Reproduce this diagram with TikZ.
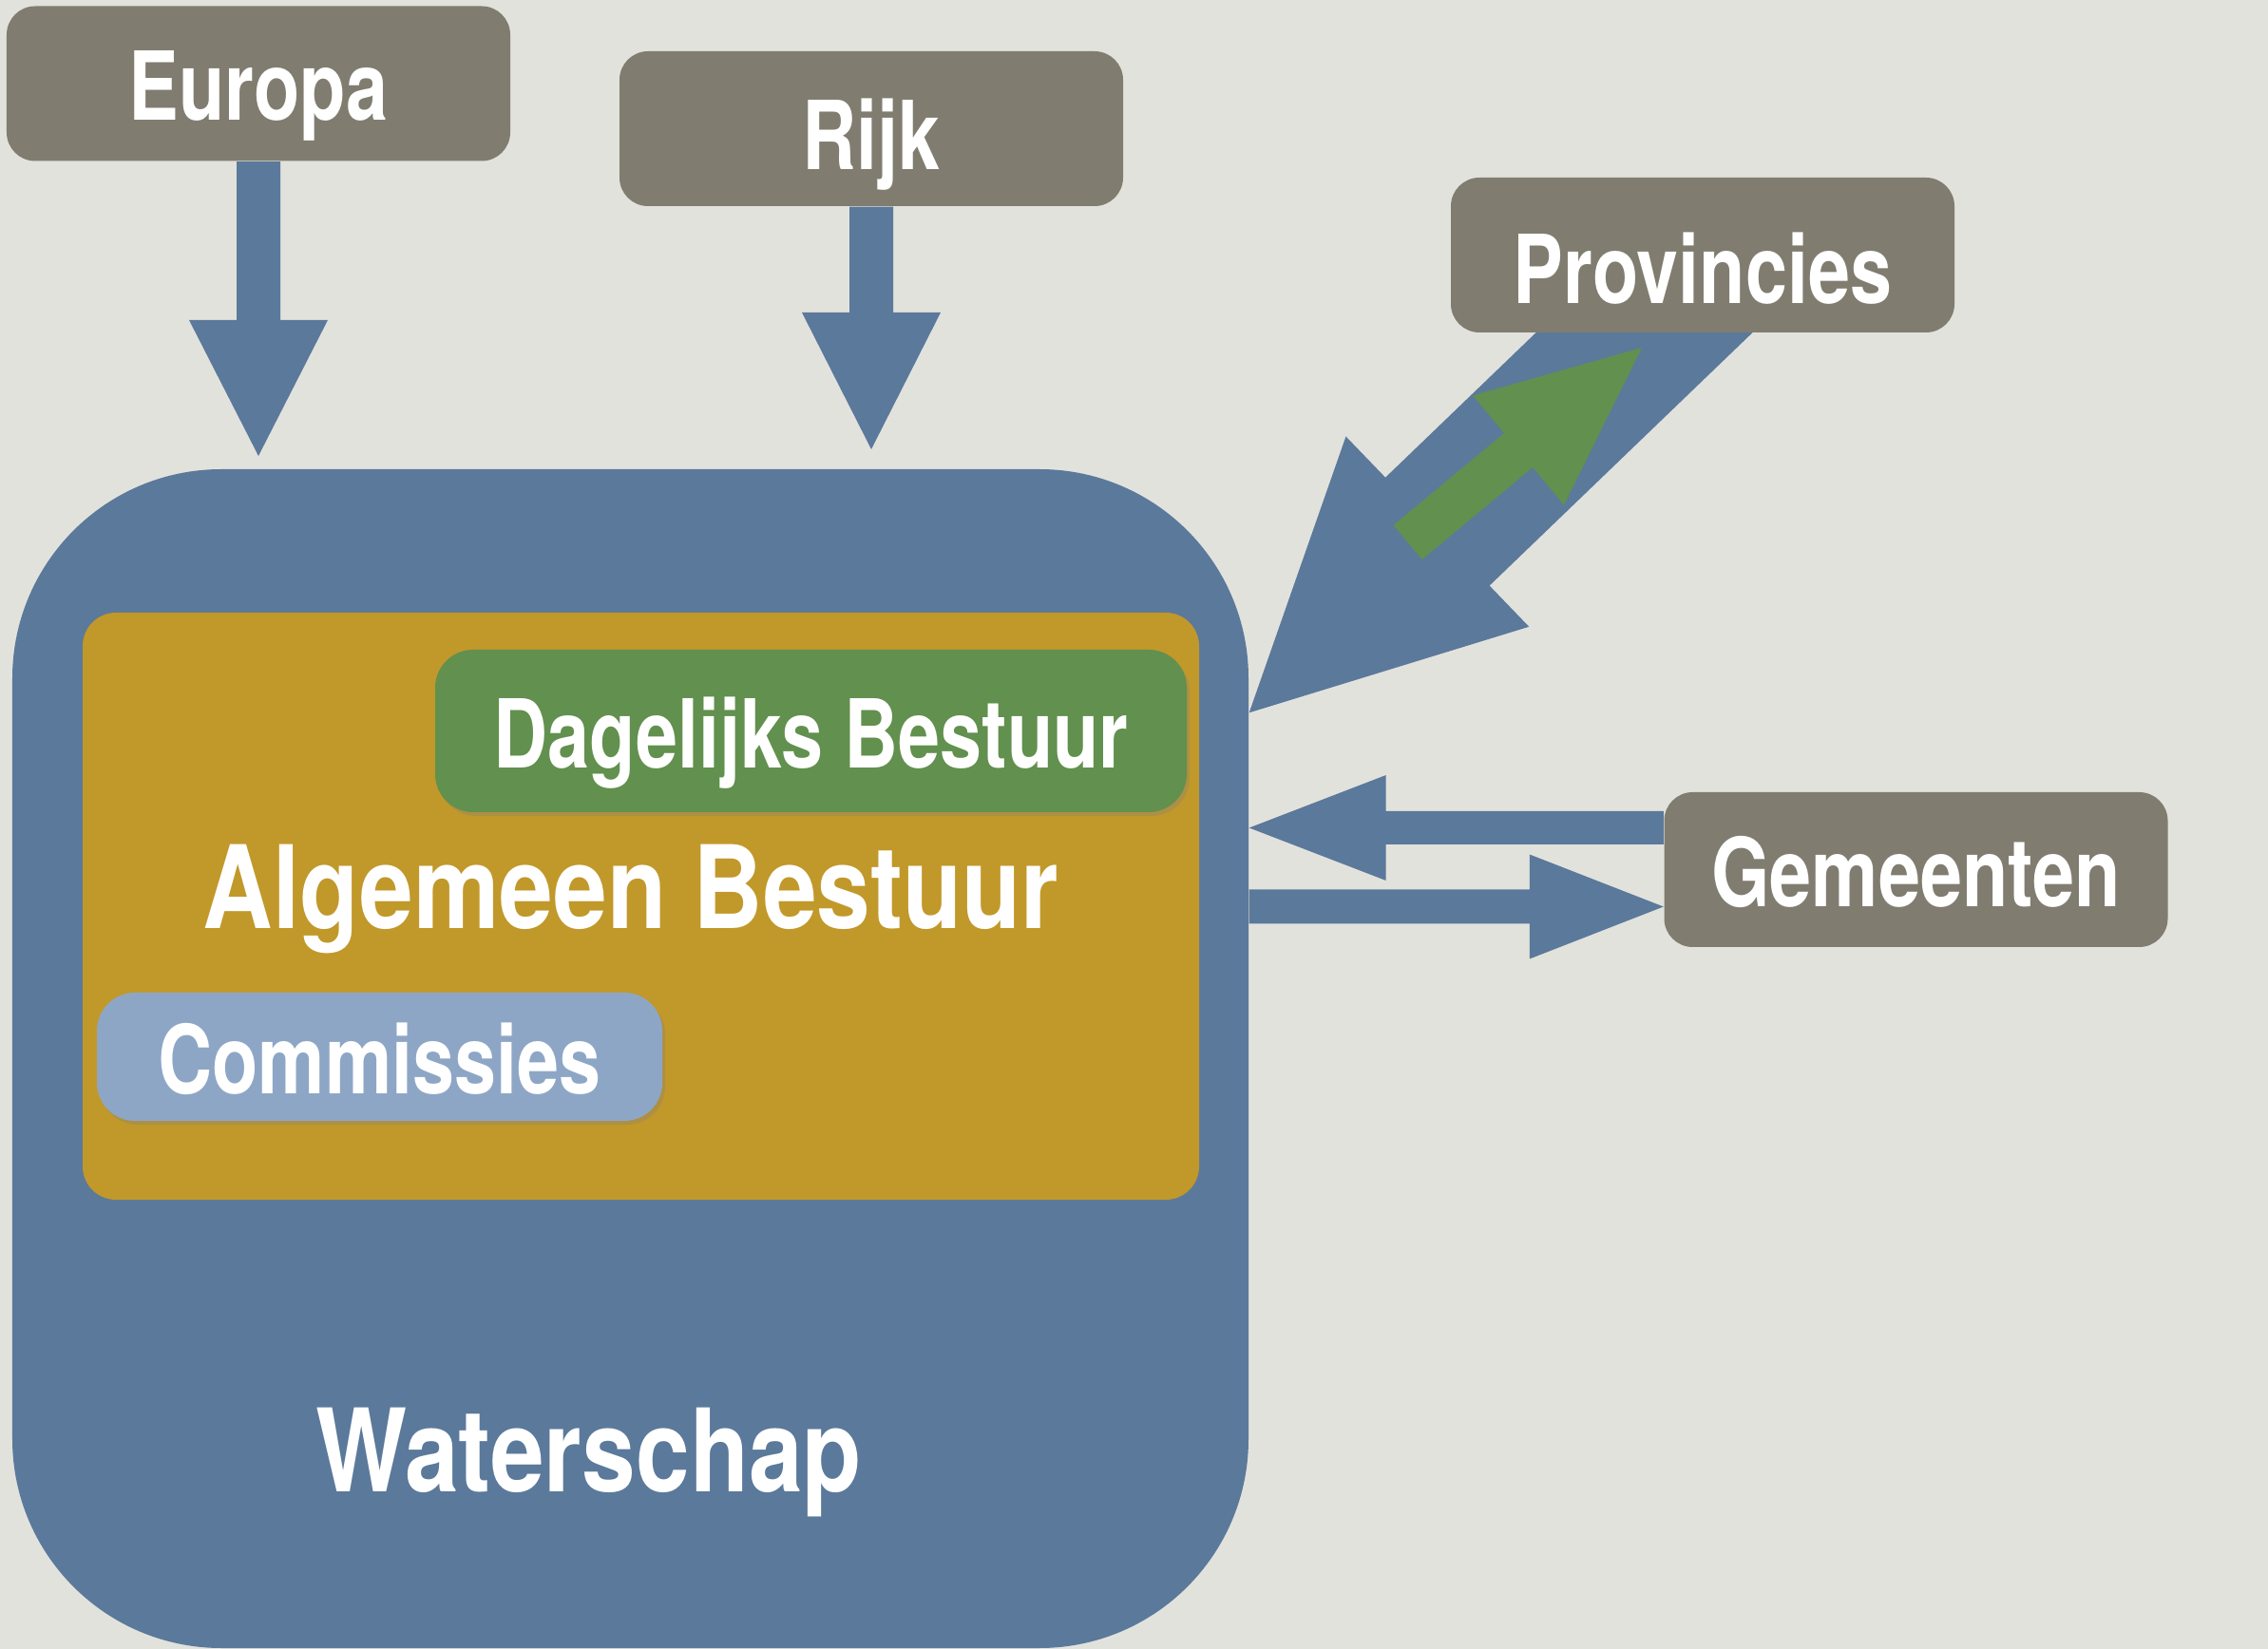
\documentclass[tikz,border=0pt]{standalone}
\usepackage{fontspec}
\setmainfont{TeX Gyre Heros}[FakeStretch=0.79]
\newfontfamily\bigfont{TeX Gyre Heros}[FakeStretch=0.84]
\usepackage{tikz}
\usetikzlibrary{calc,positioning,shadows}
\definecolor{paper}{RGB}{226,226,220}
\definecolor{boxgrey}{RGB}{128,125,112}
\definecolor{waterblue}{RGB}{91,121,155}
\definecolor{abgold}{RGB}{193,152,42}
\definecolor{dbgreen}{RGB}{98,144,78}
\definecolor{comblue}{RGB}{142,166,198}
\pgfdeclarelayer{back}
\pgfdeclarelayer{arrows}
\pgfsetlayers{back,arrows,main}
% block arrow: [colour] {from} {to} {half shaft} {half head} {head length}
\newcommand{\blockarrow}[6][waterblue]{%
	\coordinate (hb) at ($(#3)!#6!(#2)$);
	\fill[#1] ($(#2)!#4!90:(#3)$) -- ($(hb)!#4!-90:(#2)$) -- ($(hb)!#5!-90:(#2)$) -- (#3)
		-- ($(hb)!#5!90:(#2)$) -- ($(hb)!#4!90:(#2)$) -- ($(#2)!#4!-90:(#3)$) -- cycle;
}

\begin{document}
\begin{tikzpicture}[
		lbl/.style={text=white, font=\bfseries\fontsize{28.5}{31}\selectfont, text height=22.2pt, text depth=0pt, inner sep=0pt},
		big/.style={text=white, font=\bigfont\bfseries\fontsize{34.5}{38}\selectfont, text height=24.8pt, text depth=0pt, inner sep=0pt},
		org/.style={lbl, rounded corners=0.3cm, fill=boxgrey, minimum width=5.3cm, minimum height=1.63cm},
		inbox/.style={lbl, rounded corners=0.4cm, drop shadow={shadow xshift=0.03cm, shadow yshift=-0.04cm, opacity=0.3}}]
	\begin{pgfonlayer}{back}
		\fill[paper] (0,0) rectangle (23.87,-17.36);
	\end{pgfonlayer}
	\useasboundingbox (0,0) rectangle (23.87,-17.36);
	\path 	(6.635,-11.145) node (waterschap) [fill=waterblue, rounded corners=2.2cm, minimum width=13.01cm, minimum height=12.41cm] {}
	        (6.745,-9.54) 	node (ab) [fill=abgold, rounded corners=0.35cm, minimum width=11.75cm, minimum height=6.18cm] {}
	        (8.535,-7.695) 	node (db) [inbox, fill=dbgreen, minimum width=7.91cm, minimum height=1.71cm] {Dagelijks Bestuur}
	        (3.995,-11.125) node (commissies) [inbox, fill=comblue, minimum width=5.95cm, minimum height=1.35cm] {Commissies}
	        (6.64,-9.34) 	node (ab text) [big] {Algemeen Bestuur}
	        (6.20,-15.27) 	node (waterschap text) [big] {Waterschap};
	\path 	(2.72,-0.88) 	node (europa) [org] {Europa}
	        (9.17,-1.355) 	node (rijk) [org, text height=24.5pt] {Rijk}
	        (17.92,-2.685) 	node (provincies) [org, text height=29pt] {Provincies}
	        (20.165,-9.155) node (gemeenten) [org] {Gemeenten};
	\begin{pgfonlayer}{arrows}
		\coordinate (europa tip) at (2.72,-4.80);
		\coordinate (rijk tip) at (9.17,-4.73);
		\coordinate (prov start) at ($(provincies.south)+(0.18,0.77)$);
		\coordinate (prov tip) at ($(waterschap.north east)+(0,-2.57)$);
		\coordinate (prov tail) at (14.815,-5.71);
		\coordinate (prov up) at (17.28,-3.66);
		\coordinate (gem out) at ($(gemeenten.west)+(0,0.44)$);
		\coordinate (gem out tip) at (waterschap.east |- gem out);
		\coordinate (gem in) at ($(gemeenten.west)+(0,-0.39)$);
		\coordinate (gem in start) at (waterschap.east |- gem in);
		\blockarrow{europa.south}{europa tip}{0.23cm}{0.73cm}{1.43cm}
		\blockarrow{rijk.south}{rijk tip}{0.23cm}{0.73cm}{1.44cm}
		\blockarrow{prov start}{prov tip}{0.79cm}{1.39cm}{2.75cm}
		\blockarrow[dbgreen]{prov tail}{prov up}{0.235cm}{0.75cm}{1.69cm}
		\blockarrow{gem out}{gem out tip}{0.175cm}{0.555cm}{1.44cm}
		\blockarrow{gem in start}{gem in}{0.18cm}{0.55cm}{1.41cm}
	\end{pgfonlayer}
\end{tikzpicture}
\end{document}
